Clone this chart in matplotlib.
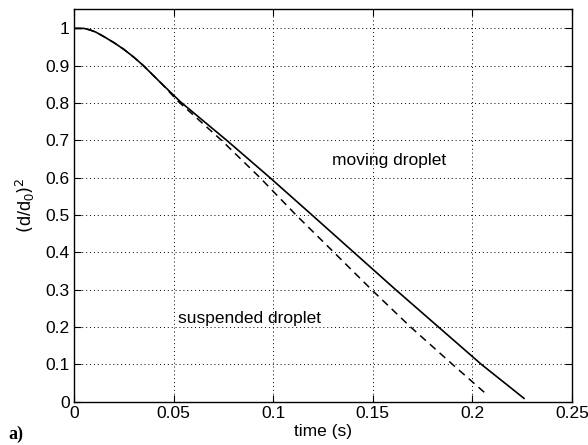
import matplotlib
matplotlib.use("Agg")
import matplotlib.pyplot as plt

# moving droplet (solid)
t_moving = [0.0, 0.005, 0.008, 0.011, 0.015, 0.020, 0.025, 0.030, 0.0347, 0.0438, 0.0535, 0.0767, 0.0984, 0.1195, 0.1405, 0.1615, 0.1830, 0.2045, 0.2259]
y_moving = [1.0, 1.0, 0.996, 0.99, 0.978, 0.962, 0.944, 0.923, 0.901, 0.853, 0.803, 0.7, 0.6, 0.5, 0.4, 0.3, 0.2, 0.1, 0.009]
# suspended droplet (dashed)
t_susp = [0.0, 0.005, 0.008, 0.011, 0.015, 0.020, 0.025, 0.030, 0.0347, 0.0438, 0.0522, 0.0741, 0.0934, 0.1115, 0.1305, 0.1494, 0.169, 0.190, 0.2075]
y_susp = [1.0, 1.0, 0.996, 0.99, 0.978, 0.962, 0.944, 0.923, 0.901, 0.853, 0.805, 0.7, 0.6, 0.5, 0.4, 0.3, 0.2, 0.1, 0.018]

xticks = [0, 0.05, 0.1, 0.15, 0.2, 0.25]
xticklabels = ["0", "0.05", "0.1", "0.15", "0.2", "0.25"]
yticks = [0, 0.1, 0.2, 0.3, 0.4, 0.5, 0.6, 0.7, 0.8, 0.9, 1.0]
yticklabels = ["0", "0.1", "0.2", "0.3", "0.4", "0.5", "0.6", "0.7", "0.8", "0.9", "1"]

plt.rcParams['font.family'] = ['Liberation Sans', 'DejaVu Sans']

fig = plt.figure(figsize=(5.88, 4.45), dpi=100)
ax = fig.add_axes([74/588, 1 - 401.7/445, (572-74)/588, (401.7-9)/445])

ax.plot(t_moving, y_moving, color='black', lw=1.2, solid_joinstyle='round')
ax.plot(t_susp, y_susp, color='black', lw=1.1, dashes=(5, 3.5))

ax.set_xlim(0, 0.25)
ax.set_ylim(0, 1.052)
ax.set_xticks(xticks)
ax.set_xticklabels(xticklabels)
ax.set_yticks(yticks)
ax.set_yticklabels(yticklabels)
ax.tick_params(direction='in', top=True, right=True, labelsize=12.5, length=5, width=0.8, pad=3)
ax.grid(True, color='black', linestyle=(0, (1, 3)), linewidth=0.7)
for s in ax.spines.values():
    s.set_linewidth(1.0)

ax.text(0.1295, 0.645, "moving droplet", fontsize=12.5, va='center', ha='left')
ax.text(0.0522, 0.224, "suspended droplet", fontsize=12.5, va='center', ha='left')

ax.set_xlabel("time (s)", fontsize=12.5, labelpad=2)
ax.set_ylabel(r"$(\mathregular{d/d_0})^2$", fontsize=13, labelpad=6)

fig.text(8/588, 1 - 434/445, "a)", fontsize=13, fontweight='bold', family='Liberation Serif', va='center', ha='left')

fig.savefig("out.png", dpi=100)
